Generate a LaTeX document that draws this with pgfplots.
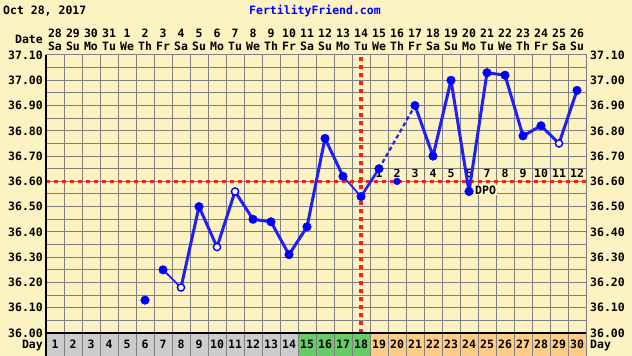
\documentclass[border=0pt]{standalone}
\usepackage{pgfplots}
\pgfplotsset{compat=1.18}
\usepackage{fontspec}
\setmainfont{DejaVu Sans Mono}
\newcommand\pix{\fontsize{11.5pt}{12pt}\selectfont\bfseries}
\definecolor{bg}{RGB}{253,243,194}
\definecolor{gridgray}{RGB}{128,128,128}
\definecolor{cellgray}{RGB}{204,204,204}
\definecolor{cellgreen}{RGB}{102,204,102}
\definecolor{cellorange}{RGB}{255,204,136}
\definecolor{ffblue}{RGB}{0,0,255}
\definecolor{lineblue}{RGB}{30,30,255}
\definecolor{ffred}{RGB}{250,30,30}
\begin{document}
\begin{tikzpicture}[pixtext/.style={font=\pix, inner sep=0pt, text height=8.4pt, text depth=0pt}]
\fill[bg] (0pt,0pt) rectangle (632pt,356pt);
% header
\node[pixtext, anchor=west] at (3pt,346pt) {Oct 28, 2017};
\node[pixtext, text=ffblue] at (315pt,346pt) {FertilityFriend.com};
\node[pixtext, anchor=east] at (43pt,317pt) {Date};
\foreach \d/\n/\w in {1/28/Sa,2/29/Su,3/30/Mo,4/31/Tu,5/1/We,6/2/Th,7/3/Fr,8/4/Sa,9/5/Su,10/6/Mo,11/7/Tu,12/8/We,13/9/Th,14/10/Fr,15/11/Sa,16/12/Su,17/13/Mo,18/14/Tu,19/15/We,20/16/Th,21/17/Fr,22/18/Sa,23/19/Su,24/20/Mo,25/21/Tu,26/22/We,27/23/Th,28/24/Fr,29/25/Sa,30/26/Su}{
  \node[pixtext] at ({(46+(\d-0.5)*18)*1pt},323pt) {\n};
  \node[pixtext] at ({(46+(\d-0.5)*18)*1pt},310pt) {\w};
}
% day row
\fill[cellgray] (46pt,0pt) rectangle (298pt,23pt);
\fill[cellgreen] (298pt,0pt) rectangle (370pt,23pt);
\fill[cellorange] (370pt,0pt) rectangle (586pt,23pt);
\foreach \d in {1,...,30}{
  \draw[gridgray, line width=1pt] ({(46+\d*18)*1pt},0pt) -- ({(46+\d*18)*1pt},23pt);
  \node[pixtext] at ({(46+(\d-0.5)*18)*1pt},12pt) {\d};
}
\node[pixtext, anchor=east] at (43pt,12pt) {Day};
\node[pixtext, anchor=west] at (590pt,12pt) {Day};
% DPO numbers
\foreach \k in {1,...,12}{
  \node[pixtext] at ({(46+(\k+18-0.5)*18)*1pt},183pt) {\k};
}
\begin{axis}[
  at={(46pt,23pt)}, anchor=south west,
  width=540pt, height=278pt, scale only axis,
  xmin=0, xmax=30, ymin=36, ymax=37.1,
  clip=false,
  axis line style={draw=gridgray, line width=1pt},
  xtick={0,1,...,30}, xticklabels={},
  ytick={36,36.1,36.2,36.3,36.4,36.5,36.6,36.7,36.8,36.9,37.0,37.1},
  minor y tick num=1,
  major tick length=0pt, minor tick length=0pt,
  xmajorgrids, ymajorgrids, yminorgrids,
  grid style={gridgray, line width=1pt},
  minor grid style={gridgray, line width=1pt},
  /pgf/number format/assume math mode=true,
  yticklabel style={font=\pix, inner sep=0pt, text height=8.4pt, text depth=0pt, xshift=-3pt,
    /pgf/number format/fixed, /pgf/number format/fixed zerofill, /pgf/number format/precision=2},
]
% red lines
\addplot[ffred, line width=3.2pt, dash pattern=on 4pt off 4pt] coordinates {(0,36.60) (30,36.60)};
\addplot[ffred, line width=3.2pt, dash pattern=on 4pt off 4pt] coordinates {(17.5,36.0) (17.5,37.1)};
% black left and bottom lines
\draw[black, line width=2pt] (axis cs:0,35.909) -- (axis cs:0,37.1);
\draw[black, line width=2pt] (axis cs:0,36) -- (axis cs:30,36);
% blue lines
\addplot[lineblue, line width=1.8pt] coordinates {(6.5,36.25) (7.5,36.18)};
\addplot[lineblue, line width=3pt, line join=round] coordinates {
 (7.5,36.18) (8.5,36.50) (9.5,36.34) (10.5,36.56) (11.5,36.45) (12.5,36.44)
 (13.5,36.31) (14.5,36.42) (15.5,36.77) (16.5,36.62)};
\addplot[lineblue, line width=1.8pt] coordinates {(16.5,36.62) (17.5,36.54)};
\addplot[lineblue, line width=2.6pt] coordinates {(17.5,36.54) (18.5,36.65)};
\addplot[lineblue, line width=2.2pt, dash pattern=on 4pt off 3pt] coordinates {(18.5,36.65) (20.5,36.90)};
\addplot[lineblue, line width=3pt, line join=round] coordinates {
 (20.5,36.90) (21.5,36.70) (22.5,37.00) (23.5,36.56) (24.5,37.03) (25.5,37.02)
 (26.5,36.78) (27.5,36.82) (28.5,36.75) (29.5,36.96)};
% marks
\addplot[only marks, mark=*, mark size=4.3pt, ffblue, mark options={draw=ffblue, fill=ffblue}] coordinates {
 (5.5,36.13) (6.5,36.25) (8.5,36.50) (11.5,36.45) (12.5,36.44) (13.5,36.31)
 (14.5,36.42) (15.5,36.77) (16.5,36.62) (17.5,36.54) (18.5,36.65) (20.5,36.90)
 (21.5,36.70) (22.5,37.00) (23.5,36.56) (24.5,37.03) (25.5,37.02) (26.5,36.78)
 (27.5,36.82) (29.5,36.96)};
\addplot[only marks, mark=*, mark size=3.6pt, mark options={draw=ffblue, fill=white!50!bg, line width=1.4pt}] coordinates {
 (7.5,36.18) (9.5,36.34) (10.5,36.56) (28.5,36.75)};
\addplot[only marks, mark=*, mark size=3.4pt, mark options={draw=ffblue, fill=ffblue}] coordinates {(19.5,36.60)};
\node[font=\pix, fill=bg, inner sep=1pt, text height=8.4pt, text depth=0pt, anchor=west] at (axis cs:23.78,36.566) {DPO};
\end{axis}
\begin{axis}[
  at={(46pt,23pt)}, anchor=south west,
  width=540pt, height=278pt, scale only axis,
  xmin=0, xmax=30, ymin=36, ymax=37.1,
  axis x line=none, axis y line*=right,
  y axis line style={draw=none},
  ytick={36,36.1,36.2,36.3,36.4,36.5,36.6,36.7,36.8,36.9,37.0,37.1},
  major tick length=0pt,
  /pgf/number format/assume math mode=true,
  yticklabel style={font=\pix, inner sep=0pt, text height=8.4pt, text depth=0pt, xshift=4pt,
    /pgf/number format/fixed, /pgf/number format/fixed zerofill, /pgf/number format/precision=2},
]
\addplot[draw=none] coordinates {(0,36) (30,37.1)};
\end{axis}
\pgfresetboundingbox
\path (0pt,0pt) rectangle (632pt,356pt);
\end{tikzpicture}
\end{document}
